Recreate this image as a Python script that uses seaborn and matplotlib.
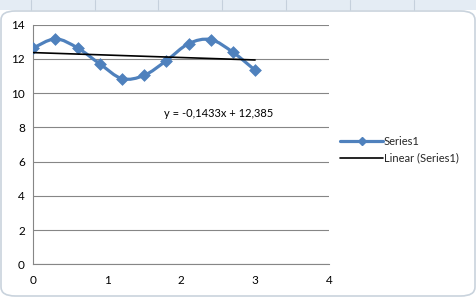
import numpy as np
import matplotlib
matplotlib.use("Agg")
import matplotlib.pyplot as plt
from matplotlib.path import Path
from matplotlib.patches import PathPatch, FancyBboxPatch, Rectangle
from matplotlib.lines import Line2D
import seaborn as sns
import pandas as pd

# ---- data ----
x_vals = [0.0, 0.3, 0.6, 0.9, 1.2, 1.5, 1.8, 2.1, 2.4, 2.7, 3.0]
y_vals = [12.64, 13.17, 12.64, 11.71, 10.85, 11.04, 11.90, 12.89, 13.13, 12.39, 11.34]
series_name = "Series1"
trend_name = "Linear (Series1)"
equation = "y = -0,1433x + 12,385"
x_ticks = [0, 1, 2, 3, 4]
y_ticks = [0, 2, 4, 6, 8, 10, 12, 14]

df = pd.DataFrame({"x": x_vals, "y": y_vals})

sns.set_theme(style="white")
plt.rcParams['font.family'] = ['Lato', 'DejaVu Sans']

W, H = 477, 298
fig = plt.figure(figsize=(W / 100, H / 100), dpi=100)
fig.patch.set_facecolor("white")

# Excel-like frame
strip = Rectangle((0, 1 - 10 / H), 1, 10 / H, transform=fig.transFigure,
                  facecolor="#e4ecf4", edgecolor="none", zorder=-3)
fig.patches.append(strip)
for px in [31, 95, 158, 222, 286, 350, 414]:
    ln = Line2D([px / W, px / W], [1 - 10 / H, 1], transform=fig.transFigure,
                color="#c5d0dc", lw=0.8, zorder=-2.5)
    fig.add_artist(ln)
frame = FancyBboxPatch((1 / W, 2 / H), (W - 3) / W, (H - 13) / H,
                       boxstyle="round,pad=0,rounding_size=0.03",
                       transform=fig.transFigure, facecolor="white",
                       edgecolor="#c9d3dd", lw=1.2, zorder=-2)
fig.patches.append(frame)

# axes placement (pixels)
left, right, top, bottom = 33.3, 329.0, 24.7, 264.3
ax = fig.add_axes([left / W, 1 - bottom / H, (right - left) / W, (bottom - top) / H])
ax.set_facecolor("none")
ax.set_zorder(1)

# smooth series line (Catmull-Rom Bezier through the data)
px_ = np.array(x_vals)
py_ = np.array(y_vals)
verts = [(px_[0], py_[0])]
codes = [Path.MOVETO]
n = len(px_)
for i in range(n - 1):
    p0 = np.array([px_[max(i - 1, 0)], py_[max(i - 1, 0)]])
    p1 = np.array([px_[i], py_[i]])
    p2 = np.array([px_[i + 1], py_[i + 1]])
    p3 = np.array([px_[min(i + 2, n - 1)], py_[min(i + 2, n - 1)]])
    c1 = p1 + (p2 - p0) / 6
    c2 = p2 - (p3 - p1) / 6
    verts += [tuple(c1), tuple(c2), tuple(p2)]
    codes += [Path.CURVE4] * 3
blue = "#4F81BD"
ax.add_patch(PathPatch(Path(verts, codes), facecolor="none", edgecolor=blue,
                       lw=2.3, zorder=3, capstyle="round", joinstyle="round"))

sns.scatterplot(data=df, x="x", y="y", marker="D", s=36, color=blue,
                edgecolor=blue, linewidth=0.5, ax=ax, zorder=4, legend=False)

# linear trendline
sns.regplot(data=df, x="x", y="y", scatter=False, ci=None, truncate=True,
            line_kws=dict(color="black", lw=1.2, zorder=5), ax=ax)

ax.text(2.51, 8.83, equation, ha="center", va="center", fontsize=8, color="black")

ax.set_xlim(0, 4)
ax.set_ylim(0, 14)
ax.set_xticks(x_ticks)
ax.set_yticks(y_ticks)
ax.set_xlabel("")
ax.set_ylabel("")
ax.grid(axis="y", color="#868686", lw=0.8)
ax.grid(axis="x", visible=False)
ax.set_axisbelow(True)
for s in ["top", "right"]:
    ax.spines[s].set_visible(False)
for s in ["left", "bottom"]:
    ax.spines[s].set_color("#868686")
    ax.spines[s].set_linewidth(0.8)
ax.tick_params(axis="both", which="major", direction="out", length=3, width=0.8,
               color="#868686", labelsize=8.5, labelcolor="black", pad=3)
ax.tick_params(axis="x", pad=5)

handles = [Line2D([0], [0], color=blue, lw=2.3, marker="D", markersize=4),
           Line2D([0], [0], color="black", lw=1.2)]
fig.legend(handles, [series_name, trend_name], loc="center left",
           bbox_to_anchor=(336 / W, 1 - 150 / H), frameon=False, fontsize=8,
           handlelength=3.8, handletextpad=0.1, labelspacing=0.5, borderaxespad=0)

fig.savefig("out.png", dpi=100)
